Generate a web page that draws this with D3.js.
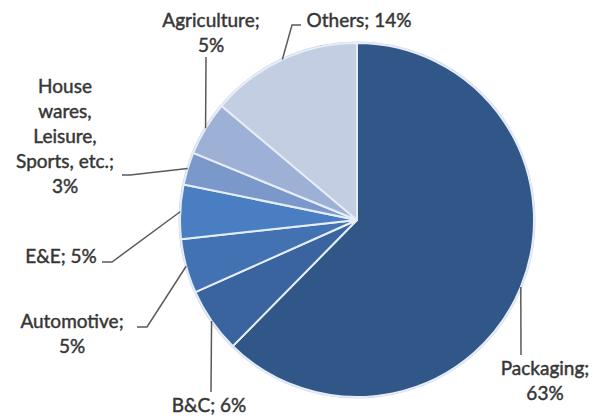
<!DOCTYPE html>
<html>
<head>
<meta charset="utf-8">
<script src="https://cdn.jsdelivr.net/npm/d3@7"></script>
<style>
  html, body { margin: 0; padding: 0; background: #fff; }
  svg { display: block; }
</style>
</head>
<body>
<svg id="chart"></svg>
<script>
// Data (clockwise from 12 o'clock)
const categories = ['Packaging', 'B&C', 'Automotive', 'E&E',
  'House wares, Leisure, Sports, etc.', 'Agriculture', 'Others'];
const shares = [63, 6, 5, 5, 3, 5, 14];
const labelLines = [
  ['Packaging;', '63%'],
  ['B&C; 6%'],
  ['Automotive;', '5%'],
  ['E&E; 5%'],
  ['House', 'wares,', 'Leisure,', 'Sports, etc.;', '3%'],
  ['Agriculture;', '5%'],
  ['Others; 14%']
];

const colors = ['#305788', '#3a64a0', '#4272b2', '#4a7ec2', '#7b98ca', '#9db1d6', '#c3cee2'];

// label layout: text anchor (centre x, first baseline y) and leader bend points
const labelLayout = [
  { x: 545, y: 375, anchor: 'middle', leader: [[521, 355]] },
  { x: 209, y: 412, anchor: 'middle', leader: [[211, 392]] },
  { x: 72, y: 328, anchor: 'middle', leader: [[147, 327], [137, 327]] },
  { x: 61, y: 263, anchor: 'middle', leader: [[112, 262], [102, 262]] },
  { x: 65, y: 93, anchor: 'middle', leader: [[130, 175], [122, 175]] },
  { x: 211, y: 27, anchor: 'middle', leader: [[206, 57]] },
  { x: 359, y: 27, anchor: 'middle', leader: [[292, 25], [301, 25]] }
];

const width = 594;
const height = 418;
const cx = 357;
const cy = 220;
const radius = 177;
const lineHeight = 25;

const svg = d3.select('#chart').attr('width', width).attr('height', height);

const data = categories.map((c, i) => ({ name: c, value: shares[i], i }));

const pie = d3.pie().sort(null).value((d) => d.value);
const arcs = pie(data);
const arc = d3.arc().innerRadius(0).outerRadius(radius);

const g = svg.append('g').attr('transform', `translate(${cx},${cy})`);

// faint outline round the pie
g.append('circle')
  .attr('r', radius + 0.5)
  .attr('fill', 'none')
  .attr('stroke', '#c9d5e8')
  .attr('stroke-width', 2);

g.selectAll('path.slice')
  .data(arcs)
  .join('path')
  .attr('class', 'slice')
  .attr('d', arc)
  .attr('fill', (d) => colors[d.data.i])
  .attr('stroke', '#e6edf7')
  .attr('stroke-width', 2)
  .attr('stroke-linejoin', 'round');

// leader lines start on the rim at each slice's mid angle
const rimPoint = (d) => {
  const a = (d.startAngle + d.endAngle) / 2;
  return [cx + radius * Math.sin(a), cy - radius * Math.cos(a)];
};

const line = d3.line();
svg.append('g')
  .selectAll('path')
  .data(arcs)
  .join('path')
  .attr('d', (d) => line([rimPoint(d), ...labelLayout[d.data.i].leader]))
  .attr('fill', 'none')
  .attr('stroke', '#5a5a5a')
  .attr('stroke-width', 1.5);

const labels = svg.append('g')
  .style('font-family', 'Lato, "Open Sans", sans-serif')
  .style('font-size', '19px')
  .attr('fill', '#363636')
  .attr('stroke', '#363636')
  .attr('stroke-width', 0.45);

arcs.forEach((d) => {
  const lay = labelLayout[d.data.i];
  const t = labels.append('text')
    .attr('text-anchor', lay.anchor)
    .attr('x', lay.x)
    .attr('y', lay.y);
  labelLines[d.data.i].forEach((s, k) => {
    t.append('tspan')
      .attr('x', lay.x)
      .attr('y', lay.y + k * lineHeight)
      .text(s);
  });
});
</script>
</body>
</html>
